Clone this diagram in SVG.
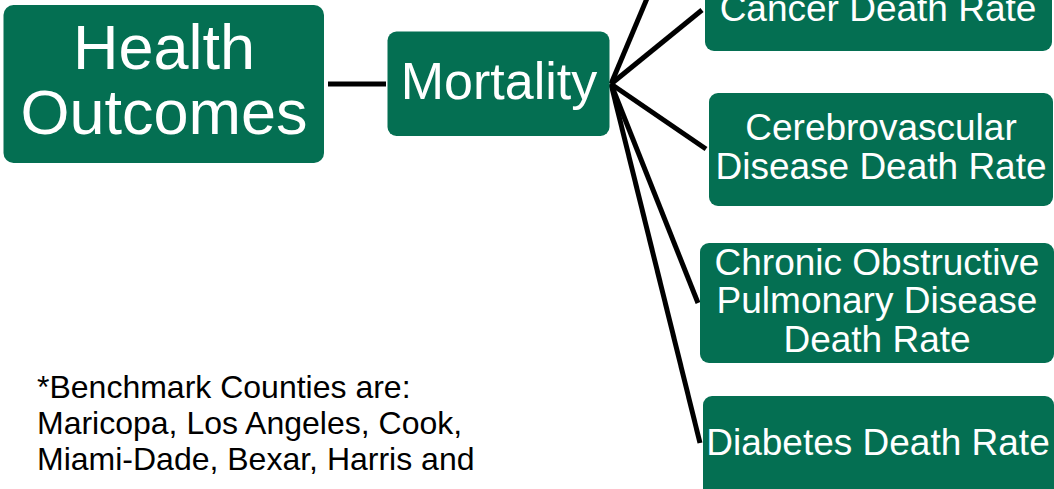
<svg xmlns="http://www.w3.org/2000/svg" width="1054" height="489" viewBox="0 0 1054 489">
<style>
.box{fill:#046f52;}
.t{fill:#ffffff;font-family:"Liberation Sans",Arial,sans-serif;text-anchor:middle;}
.s{font-size:37px;}
.note{fill:#000000;font-family:"Liberation Sans",Arial,sans-serif;font-size:32px;}
.conn{stroke:#000000;stroke-width:5;fill:none;stroke-linecap:butt;}
</style>
<rect width="1054" height="489" fill="#ffffff"/>
<g id="connectors">
<line class="conn" x1="328" y1="84" x2="386" y2="84"/>
<line class="conn" x1="611" y1="84" x2="680" y2="-80"/>
<line class="conn" x1="611" y1="84" x2="702" y2="10"/>
<line class="conn" x1="611" y1="84" x2="706" y2="149"/>
<line class="conn" x1="611" y1="84" x2="698" y2="303"/>
<line class="conn" x1="611" y1="84" x2="700" y2="443"/>
</g>
<g id="health-outcomes">
<rect class="box" x="3.5" y="5" width="320.5" height="158" rx="10"/>
<text class="t" x="164" y="69" font-size="63">Health</text>
<text class="t" x="164" y="134" font-size="63">Outcomes</text>
</g>
<g id="mortality">
<rect class="box" x="387.5" y="31.5" width="222" height="104.5" rx="9"/>
<text class="t" x="499" y="99" font-size="52">Mortality</text>
</g>
<g id="cancer">
<rect class="box" x="705" y="-31" width="347" height="82" rx="9"/>
<text class="t s" x="878" y="21">Cancer Death Rate</text>
</g>
<g id="cerebrovascular">
<rect class="box" x="709" y="93" width="344" height="113" rx="9"/>
<text class="t s" x="881" y="140">Cerebrovascular</text>
<text class="t s" x="881" y="179">Disease Death Rate</text>
</g>
<g id="copd">
<rect class="box" x="700" y="243" width="354" height="120" rx="9"/>
<text class="t s" x="877" y="275">Chronic Obstructive</text>
<text class="t s" x="877" y="313">Pulmonary Disease</text>
<text class="t s" x="877" y="352">Death Rate</text>
</g>
<g id="diabetes">
<rect class="box" x="703" y="396" width="351" height="110" rx="9"/>
<text class="t s" x="878" y="455">Diabetes Death Rate</text>
</g>
<g id="note">
<text class="note" x="37" y="398">*Benchmark Counties are:</text>
<text class="note" x="37" y="434">Maricopa, Los Angeles, Cook,</text>
<text class="note" x="37" y="470">Miami-Dade, Bexar, Harris and</text>
</g>
</svg>
